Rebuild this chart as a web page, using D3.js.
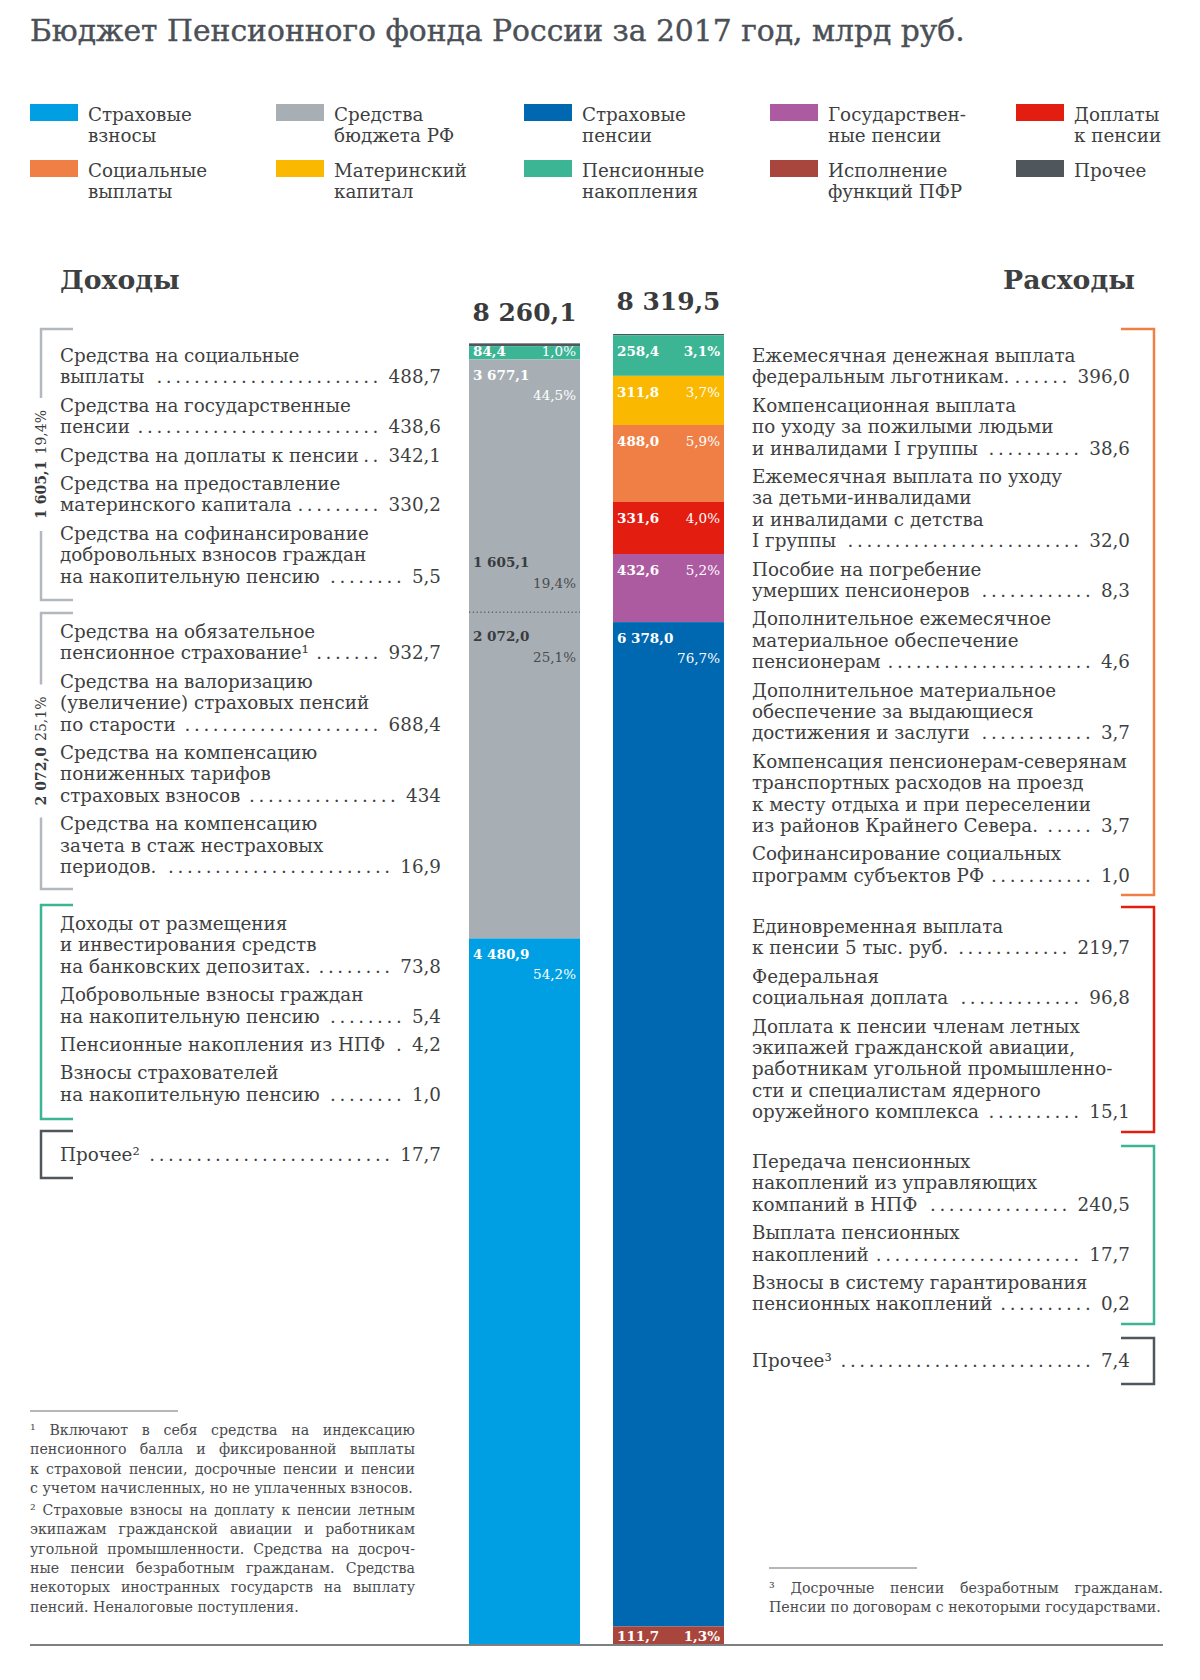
<!DOCTYPE html>
<html><head><meta charset="utf-8">
<script src="https://cdn.jsdelivr.net/npm/d3@7"></script>
<style>
html,body{margin:0;padding:0;background:#fff;}
svg{display:block;}
</style></head>
<body>
<svg id="chart" width="1200" height="1680"></svg>
<script>
// ================= DATA =================
const titleText = 'Бюджет Пенсионного фонда России за 2017 год, млрд руб.';
const headings = ['Доходы', 'Расходы'];

const legendCategories = ['Страховые взносы','Средства бюджета РФ','Страховые пенсии','Государственные пенсии','Доплаты к пенсии','Социальные выплаты','Материнский капитал','Пенсионные накопления','Исполнение функций ПФР','Прочее'];
const legendLabels = [['Страховые','взносы'],['Средства','бюджета РФ'],['Страховые','пенсии'],['Государствен-','ные пенсии'],['Доплаты','к пенсии'],['Социальные','выплаты'],['Материнский','капитал'],['Пенсионные','накопления'],['Исполнение','функций ПФР'],['Прочее']];
const categoryColors = ['#009fe3','#a7afb5','#0067b1','#ad5ba0','#e31d10','#f07f46','#fbb800','#3cb595','#a8453c','#4f565c'];

const barNames = ['Доходы','Расходы'];
const barTotals = [8260.1, 8319.5];
const totalLabels = ['8 260,1','8 319,5'];

const incomeCategories = ['Прочее','Пенсионные накопления','Средства бюджета РФ','Страховые взносы'];
const incomeValues = [17.7, 84.4, 3677.1, 4480.9];
const incomeValueLabels = ['','84,4','3 677,1','4 480,9'];
const incomeShareLabels = ['','1,0%','44,5%','54,2%'];

const budgetPartValues = [1605.1, 2072.0];
const budgetPartLabels = ['1 605,1','2 072,0'];
const budgetPartShares = ['19,4%','25,1%'];

const expenseCategories = ['Прочее','Пенсионные накопления','Материнский капитал','Социальные выплаты','Доплаты к пенсии','Государственные пенсии','Страховые пенсии','Исполнение функций ПФР'];
const expenseValues = [7.4, 258.4, 311.8, 488.0, 331.6, 432.6, 6378.0, 111.7];
const expenseValueLabels = ['','258,4','311,8','488,0','331,6','432,6','6 378,0','111,7'];
const expenseShareLabels = ['','3,1%','3,7%','5,9%','4,0%','5,2%','76,7%','1,3%'];

const incomeBudgetSocial = [
  {lines:['Средства на социальные','выплаты'], value:'488,7'},
  {lines:['Средства на государственные','пенсии'], value:'438,6'},
  {lines:['Средства на доплаты к пенсии'], value:'342,1'},
  {lines:['Средства на предоставление','материнского капитала'], value:'330,2'},
  {lines:['Средства на софинансирование','добровольных взносов граждан','на накопительную пенсию'], value:'5,5'}
];
const incomeBudgetInsurance = [
  {lines:['Средства на обязательное','пенсионное страхование¹'], value:'932,7'},
  {lines:['Средства на валоризацию','(увеличение) страховых пенсий','по старости'], value:'688,4'},
  {lines:['Средства на компенсацию','пониженных тарифов','страховых взносов'], value:'434'},
  {lines:['Средства на компенсацию','зачета в стаж нестраховых','периодов.'], value:'16,9'}
];
const incomeSavings = [
  {lines:['Доходы от размещения','и инвестирования средств','на банковских депозитах.'], value:'73,8'},
  {lines:['Добровольные взносы граждан','на накопительную пенсию'], value:'5,4'},
  {lines:['Пенсионные накопления из НПФ'], value:'4,2'},
  {lines:['Взносы страхователей','на накопительную пенсию'], value:'1,0'}
];
const incomeOther = [
  {lines:['Прочее²'], value:'17,7'}
];

const expenseSocial = [
  {lines:['Ежемесячная денежная выплата','федеральным льготникам.'], value:'396,0'},
  {lines:['Компенсационная выплата','по уходу за пожилыми людьми','и инвалидами I группы'], value:'38,6'},
  {lines:['Ежемесячная выплата по уходу','за детьми-инвалидами','и инвалидами с детства','I группы'], value:'32,0'},
  {lines:['Пособие на погребение','умерших пенсионеров'], value:'8,3'},
  {lines:['Дополнительное ежемесячное','материальное обеспечение','пенсионерам'], value:'4,6'},
  {lines:['Дополнительное материальное','обеспечение за выдающиеся','достижения и заслуги'], value:'3,7'},
  {lines:['Компенсация пенсионерам-северянам','транспортных расходов на проезд','к месту отдыха и при переселении','из районов Крайнего Севера.'], value:'3,7'},
  {lines:['Софинансирование социальных','программ субъектов РФ'], value:'1,0'}
];
const expenseSupplements = [
  {lines:['Единовременная выплата','к пенсии 5 тыс. руб.'], value:'219,7'},
  {lines:['Федеральная','социальная доплата'], value:'96,8'},
  {lines:['Доплата к пенсии членам летных','экипажей гражданской авиации,','работникам угольной промышленно-','сти и специалистам ядерного','оружейного комплекса'], value:'15,1'}
];
const expenseSavings = [
  {lines:['Передача пенсионных','накоплений из управляющих','компаний в НПФ'], value:'240,5'},
  {lines:['Выплата пенсионных','накоплений'], value:'17,7'},
  {lines:['Взносы в систему гарантирования','пенсионных накоплений'], value:'0,2'}
];
const expenseOther = [
  {lines:['Прочее³'], value:'7,4'}
];

const footnote1 = ['¹ Включают в себя средства на индексацию','пенсионного балла и фиксированной выплаты','к страховой пенсии, досрочные пенсии и пенсии','с учетом начисленных, но не уплаченных взносов.'];
const footnote2 = ['² Страховые взносы на доплату к пенсии летным','экипажам гражданской авиации и работникам','угольной промышленности. Средства на досроч-','ные пенсии безработным гражданам. Средства','некоторых иностранных государств на выплату','пенсий. Неналоговые поступления.'];
const footnote3 = ['³ Досрочные пенсии безработным гражданам.','Пенсии по договорам с некоторыми государствами.'];

// ================= LAYOUT / STYLE =================
const SERIF = "'DejaVu Serif','Liberation Serif',serif";
const TEXT = '#3e3f41';
const LINE_H = 21.4, ITEM_GAP = 7;
const BASE_Y = 1644;

const svg = d3.select('#chart');
const color = d3.scaleOrdinal().domain(legendCategories).range(categoryColors);

function measure(str, size, weight) {
  const t = svg.append('text').attr('font-family', SERIF).attr('font-size', size)
    .attr('font-weight', weight || 'normal').text(str);
  const w = t.node().getComputedTextLength();
  t.remove();
  return w;
}
const bodySize = 20 * 375 / measure('Компенсация пенсионерам-северянам', 20);
const titleSize = 30 * 935 / measure(titleText, 30);
const headSize = 26 * 132 / measure('Расходы', 26, 'bold');
const noteSize = 14 * 383 / measure('с учетом начисленных, но не уплаченных взносов.', 14);
const totalSize = 25 * 104 / measure('8 260,1', 25, 'bold');

// ---- Title
svg.append('text').attr('x', 30).attr('y', 41).attr('font-family', SERIF)
  .attr('font-size', titleSize).attr('fill', '#4a5056').attr('stroke', '#4a5056').attr('stroke-width', 0.4)
  .text(titleText);

// ---- Legend
const legendCols = [30, 276, 524, 770, 1016];
const legendRows = [104, 160];
const leg = svg.append('g').selectAll('g').data(legendCategories).join('g')
  .attr('transform', (d, i) => `translate(${legendCols[i % 5]},${legendRows[Math.floor(i / 5)]})`);
leg.append('rect').attr('width', 48).attr('height', 17).attr('fill', d => color(d));
leg.append('text').attr('font-family', SERIF).attr('font-size', bodySize).attr('fill', TEXT)
  .selectAll('tspan').data((d, i) => legendLabels[i]).join('tspan')
  .attr('x', 58).attr('y', (d, j) => 17 + j * 21).text(d => d);

// ---- Headings
svg.append('text').attr('x', 60).attr('y', 289).attr('font-family', SERIF).attr('font-weight', 'bold')
  .attr('font-size', headSize).attr('fill', TEXT).text(headings[0]);
svg.append('text').attr('x', 1135).attr('y', 289).attr('text-anchor', 'end').attr('font-family', SERIF)
  .attr('font-weight', 'bold').attr('font-size', headSize).attr('fill', TEXT).text(headings[1]);

// ---- Bars
const x = d3.scaleBand().domain(barNames).range([469, 724]).paddingInner(0.229);
const y = d3.scaleLinear().domain([0, d3.max(barTotals)]).range([BASE_Y, 334]);

function stackTopDown(values) {
  const out = new Array(values.length); let acc = 0;
  for (let i = values.length - 1; i >= 0; i--) { out[i] = {y0: acc, y1: acc + values[i]}; acc += values[i]; }
  return out;
}

function drawBar(name, cats, values, vLabels, sLabels) {
  const st = stackTopDown(values);
  const data = cats.map((c, i) => ({cat: c, value: values[i], vl: vLabels[i], sl: sLabels[i], ...st[i]}));
  const g = svg.append('g');
  const x0 = x(name), bw = x.bandwidth();
  g.selectAll('rect').data(data).join('rect')
    .attr('x', x0).attr('width', bw)
    .attr('y', d => y(d.y1)).attr('height', d => y(d.y0) - y(d.y1))
    .attr('fill', d => color(d.cat));
  const lab = data.filter(d => d.vl);
  lab.forEach(d => {
    const top = y(d.y1), bot = y(d.y0);
    const by = Math.min(top + 21, bot - 3);
    const twoLines = d.value >= 1000;
    const small = (bot - top) < 45;
    g.append('text').attr('x', x0 + 4).attr('y', by).attr('font-family', SERIF).attr('font-weight', 'bold')
      .attr('font-size', 13.5).attr('fill', '#fff').text(d.vl);
    g.append('text').attr('x', x0 + bw - 4).attr('y', twoLines ? by + 20 : by).attr('text-anchor', 'end')
      .attr('font-family', SERIF).attr('font-size', 13.5).attr('font-weight', small && name === 'Расходы' ? 'bold' : 'normal')
      .attr('fill', '#fff').text(d.sl);
  });
  // total
  svg.append('text').attr('x', x0 + bw / 2).attr('y', y(d3.sum(values)) - (name === 'Доходы' ? 22 : 24))
    .attr('text-anchor', 'middle').attr('font-family', SERIF).attr('font-weight', 'bold')
    .attr('font-size', totalSize).attr('fill', '#3a3b3d').text(totalLabels[barNames.indexOf(name)]);
  return {x0, bw, data};
}

const inc = drawBar('Доходы', incomeCategories, incomeValues, incomeValueLabels, incomeShareLabels);
drawBar('Расходы', expenseCategories, expenseValues, expenseValueLabels, expenseShareLabels);

// budget split inside the grey segment
const contrib = incomeValues[3];
const splitY = y(contrib + budgetPartValues[1]);
svg.append('line').attr('x1', inc.x0).attr('x2', inc.x0 + inc.bw).attr('y1', splitY).attr('y2', splitY)
  .attr('stroke', '#3a3b3d').attr('stroke-width', 1).attr('stroke-dasharray', '1.2 2.6');
[
  {v: budgetPartLabels[0], s: budgetPartShares[0], yy: splitY - 45},
  {v: budgetPartLabels[1], s: budgetPartShares[1], yy: splitY + 29}
].forEach(d => {
  svg.append('text').attr('x', inc.x0 + 4).attr('y', d.yy).attr('font-family', SERIF).attr('font-weight', 'bold')
    .attr('font-size', 13.5).attr('fill', '#3a3b3d').text(d.v);
  svg.append('text').attr('x', inc.x0 + inc.bw - 4).attr('y', d.yy + 21).attr('text-anchor', 'end')
    .attr('font-family', SERIF).attr('font-size', 13.5).attr('fill', '#4a4b4d').text(d.s);
});

// ---- Text groups
function drawGroup(items, startY, textX, valueX) {
  const g = svg.append('g').attr('font-family', SERIF).attr('font-size', bodySize).attr('fill', TEXT);
  let yy = startY;
  items.forEach(it => {
    it.lines.forEach((ln, j) => {
      const t = g.append('text').attr('x', textX).attr('y', yy).text(ln);
      if (j === it.lines.length - 1) {
        const v = g.append('text').attr('x', valueX).attr('y', yy).attr('text-anchor', 'end').text(it.value);
        const lEnd = textX + t.node().getComputedTextLength();
        const vStart = valueX - v.node().getComputedTextLength();
        const xs = [];
        for (let px = vStart - 16; px > lEnd + 4; px -= 9.4) xs.unshift(px);
        if (xs.length) g.append('text').attr('x', xs.map(d => d.toFixed(1)).join(' ')).attr('y', yy)
          .text('.'.repeat(xs.length));
      }
      yy += LINE_H;
    });
    yy += ITEM_GAP;
  });
}

const leftGroups = [incomeBudgetSocial, incomeBudgetInsurance, incomeSavings, incomeOther];
const leftStarts = [362, 638, 930, 1161];
const rightGroups = [expenseSocial, expenseSupplements, expenseSavings, expenseOther];
const rightStarts = [362, 933, 1168, 1367];
leftGroups.forEach((g, i) => drawGroup(g, leftStarts[i], 60, 441));
rightGroups.forEach((g, i) => drawGroup(g, rightStarts[i], 752, 1130));

// ---- Brackets
const leftBrCats = ['Средства бюджета РФ', 'Средства бюджета РФ', 'Пенсионные накопления', 'Прочее'];
const leftBrTop = [329, 613, 905, 1131], leftBrBot = [600, 889, 1119, 1178];
const rightBrCats = ['Социальные выплаты', 'Доплаты к пенсии', 'Пенсионные накопления', 'Прочее'];
const rightBrTop = [329, 907, 1146, 1338], rightBrBot = [895, 1132, 1324, 1384];
const BR_L = 41, BR_LT = 73, BR_R = 1154, BR_RT = 1121;

leftBrCats.forEach((c, i) => {
  const top = leftBrTop[i], bot = leftBrBot[i];
  const stroke = c === 'Средства бюджета РФ' ? '#b2b8bd' : color(c);
  let path = `M${BR_LT},${top}H${BR_L}V${bot}H${BR_LT}`;
  if (i < 2) {
    const mid = (top + bot) / 2;
    const t = svg.append('text').attr('transform', `translate(46,${mid}) rotate(-90)`)
      .attr('text-anchor', 'middle').attr('font-family', SERIF).attr('font-size', 14).attr('fill', '#3a3b3d');
    t.append('tspan').attr('font-weight', 'bold').text(budgetPartLabels[i]);
    t.append('tspan').attr('dx', 6).text(budgetPartShares[i]);
    const L = t.node().getComputedTextLength();
    const g0 = mid - L / 2 - 15, g1 = mid + L / 2 + 15;
    path = `M${BR_LT},${top}H${BR_L}V${g0}M${BR_L},${g1}V${bot}H${BR_LT}`;
  }
  svg.append('path').attr('d', path).attr('fill', 'none').attr('stroke', stroke).attr('stroke-width', 2.5);
});
rightBrCats.forEach((c, i) => {
  svg.append('path').attr('d', `M${BR_RT},${rightBrTop[i]}H${BR_R}V${rightBrBot[i]}H${BR_RT}`)
    .attr('fill', 'none').attr('stroke', color(c)).attr('stroke-width', 2.5);
});

// ---- Footnotes
function drawParagraph(lines, x0, x1, y0, lh) {
  const g = svg.append('g').attr('font-family', SERIF).attr('font-size', noteSize).attr('fill', '#4a4b4d');
  lines.forEach((ln, i) => {
    const yy = y0 + i * lh;
    const words = ln.split(' ');
    if (i === lines.length - 1 || words.length < 2) {
      g.append('text').attr('x', x0).attr('y', yy).text(ln);
      return;
    }
    const t = g.append('text').attr('y', yy);
    const ws = words.map(w => measure(w, noteSize));
    const gap = (x1 - x0 - d3.sum(ws)) / (words.length - 1);
    let px = x0;
    words.forEach((w, k) => {
      t.append('tspan').attr('x', px.toFixed(1)).text(w);
      px += ws[k] + gap;
    });
  });
}
drawParagraph(footnote1, 30, 415, 1435, 19.3);
drawParagraph(footnote2, 30, 415, 1515, 19.3);
drawParagraph(footnote3, 769, 1163, 1593, 19.3);

svg.append('line').attr('x1', 30).attr('x2', 178).attr('y1', 1411).attr('y2', 1411).attr('stroke', '#6d6e70').attr('stroke-width', 1);
svg.append('line').attr('x1', 769).attr('x2', 917).attr('y1', 1568).attr('y2', 1568).attr('stroke', '#6d6e70').attr('stroke-width', 1);
svg.append('line').attr('x1', 30).attr('x2', 1163).attr('y1', BASE_Y + 1).attr('y2', BASE_Y + 1).attr('stroke', '#555659').attr('stroke-width', 1.5);
</script>
</body></html>
